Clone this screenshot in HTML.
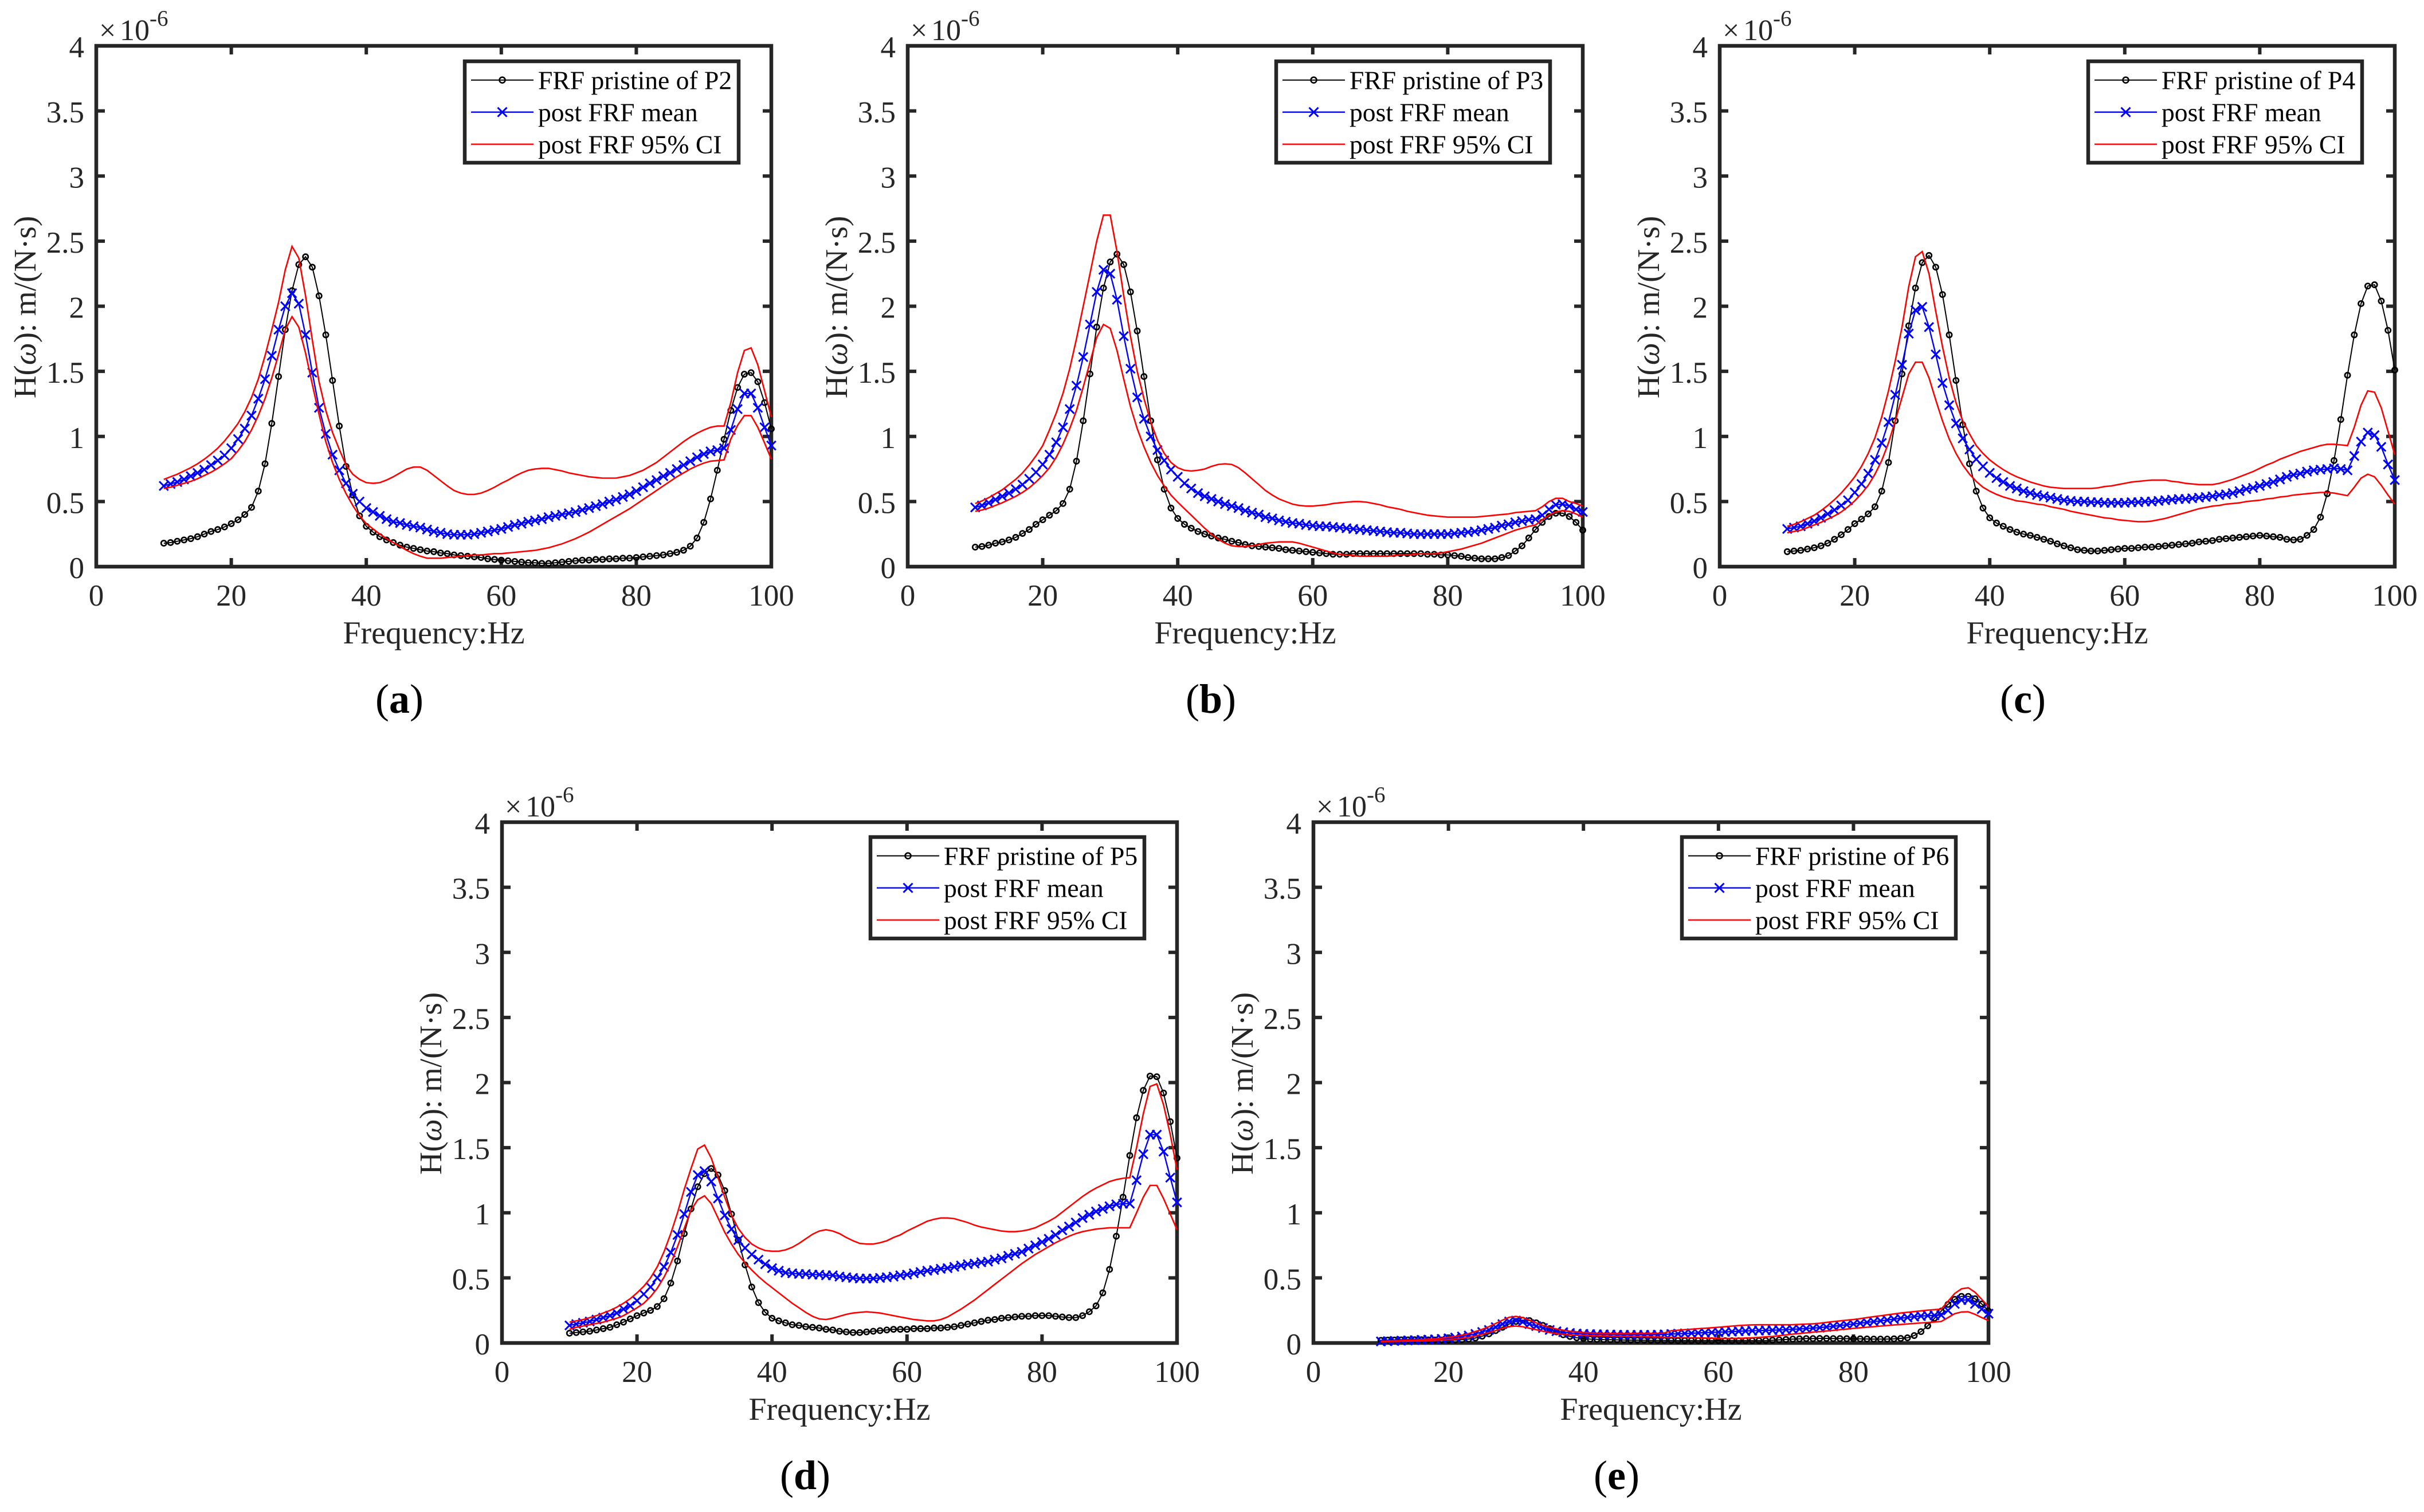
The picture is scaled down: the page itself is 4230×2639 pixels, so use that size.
<!DOCTYPE html>
<html lang="en">
<head>
<meta charset="utf-8">
<title>FRF pristine vs posterior comparison, points P2 to P6</title>
<style>
html,body{margin:0;padding:0;background:#fff;width:4230px;height:2639px;overflow:hidden}
svg{position:absolute;left:0;top:0;display:block}
text{font-family:"Liberation Serif",serif;text-rendering:geometricPrecision}
</style>
</head>
<body>
<svg id="figure" xmlns="http://www.w3.org/2000/svg" width="4230" height="2639" viewBox="0 0 4230 2639"></svg>
<script>
const frequencies = [10,11,12,13,14,15,16,17,18,19,
20,21,22,23,24,25,26,27,28,29,
30,31,32,33,34,35,36,37,38,39,
40,41,42,43,44,45,46,47,48,49,
50,51,52,53,54,55,56,57,58,59,
60,61,62,63,64,65,66,67,68,69,
70,71,72,73,74,75,76,77,78,79,
80,81,82,83,84,85,86,87,88,89,
90,91,92,93,94,95,96,97,98,99,
100];
const xTickValues = [0,20,40,60,80,100];
const xTickLabels = ['0','20','40','60','80','100'];
const yTickValues = [0,0.5,1,1.5,2,2.5,3,3.5,4];
const yTickLabels = ['0','0.5','1','1.5','2','2.5','3','3.5','4'];

const p2Pristine = [.18,.185,.195,.205,.215,.23,.25,.27,.285,.305,
.33,.36,.40,.455,.58,.79,1.10,1.46,1.82,2.12,
2.32,2.38,2.30,2.08,1.78,1.43,1.08,.77,.55,.39,
.31,.265,.23,.205,.185,.165,.15,.14,.13,.12,
.115,.105,.10,.09,.085,.08,.075,.07,.06,.055,
.05,.045,.04,.035,.03,.03,.025,.025,.03,.035,
.04,.045,.05,.05,.055,.055,.06,.06,.065,.065,
.07,.075,.08,.085,.09,.10,.11,.126,.157,.22,
.34,.52,.74,.978,1.20,1.376,1.478,1.49,1.42,1.26,
1.058];
const p2Mean = [.62,.635,.65,.67,.695,.72,.745,.78,.815,.855,
.91,.98,1.06,1.16,1.29,1.44,1.62,1.82,2.00,2.10,
2.02,1.78,1.49,1.22,1.02,.86,.74,.64,.56,.50,
.45,.42,.39,.365,.345,.335,.32,.31,.30,.285,
.27,.26,.25,.245,.245,.245,.25,.26,.27,.28,
.29,.305,.32,.33,.345,.355,.365,.38,.39,.40,
.41,.42,.435,.45,.465,.48,.50,.515,.535,.555,
.58,.61,.64,.665,.695,.72,.75,.78,.81,.84,
.865,.885,.895,.91,1.05,1.21,1.33,1.33,1.22,1.07,
.93];
const p2Upper = [.67,.69,.71,.735,.76,.79,.825,.865,.91,.965,
1.03,1.10,1.19,1.30,1.44,1.62,1.82,2.03,2.28,2.46,
2.37,2.08,1.74,1.42,1.20,1.03,.90,.78,.71,.67,
.645,.64,.645,.665,.69,.72,.75,.765,.765,.74,
.70,.66,.62,.585,.565,.555,.555,.565,.585,.61,
.64,.665,.695,.72,.74,.75,.755,.755,.745,.735,
.72,.71,.70,.69,.685,.68,.68,.68,.69,.70,
.72,.74,.77,.80,.84,.88,.92,.96,.995,1.025,
1.05,1.07,1.08,1.08,1.26,1.49,1.66,1.68,1.55,1.35,
1.15];
const p2Lower = [.60,.61,.625,.64,.655,.675,.70,.725,.755,.79,
.83,.89,.96,1.05,1.16,1.29,1.45,1.63,1.82,1.92,
1.84,1.64,1.40,1.17,.96,.80,.67,.56,.47,.39,
.33,.29,.25,.215,.185,.155,.125,.10,.08,.065,
.065,.065,.07,.075,.08,.085,.09,.09,.095,.10,
.10,.105,.11,.115,.12,.125,.135,.145,.16,.175,
.195,.215,.24,.265,.295,.325,.355,.385,.415,.445,
.48,.515,.55,.585,.62,.655,.69,.72,.75,.775,
.795,.81,.815,.82,.98,1.085,1.16,1.16,1.07,.95,
.825];

const p3Pristine = [.15,.155,.165,.18,.19,.205,.225,.255,.285,.325,
.36,.395,.43,.485,.595,.81,1.12,1.48,1.84,2.14,
2.34,2.40,2.32,2.11,1.81,1.46,1.12,.82,.595,.45,
.37,.325,.295,.27,.25,.235,.22,.21,.195,.185,
.17,.16,.155,.15,.145,.14,.13,.125,.12,.115,
.11,.105,.10,.095,.095,.095,.10,.10,.10,.10,
.10,.10,.10,.10,.10,.10,.10,.095,.095,.09,
.09,.085,.08,.07,.065,.06,.06,.06,.07,.085,
.12,.16,.22,.285,.34,.385,.41,.41,.385,.34,
.28];
const p3Mean = [.455,.47,.49,.515,.54,.565,.595,.63,.675,.725,
.785,.86,.955,1.07,1.21,1.39,1.61,1.86,2.11,2.28,
2.25,2.05,1.77,1.52,1.30,1.135,1.00,.895,.815,.745,
.69,.64,.60,.565,.54,.52,.50,.48,.465,.45,
.43,.415,.40,.38,.37,.355,.345,.335,.33,.32,
.315,.31,.31,.305,.30,.295,.29,.285,.28,.275,
.27,.265,.26,.26,.255,.25,.25,.25,.25,.25,
.25,.255,.26,.265,.27,.28,.29,.30,.315,.325,
.34,.35,.36,.365,.395,.44,.475,.48,.465,.44,
.42];
const p3Upper = [.485,.505,.53,.56,.59,.63,.67,.72,.78,.85,
.93,1.05,1.18,1.33,1.52,1.75,2.00,2.25,2.50,2.70,
2.70,2.42,2.08,1.77,1.50,1.29,1.11,.97,.87,.80,
.76,.74,.735,.74,.75,.77,.785,.79,.785,.76,
.72,.675,.63,.585,.55,.52,.50,.48,.47,.465,
.465,.47,.475,.485,.49,.495,.50,.50,.495,.485,
.475,.46,.45,.44,.425,.415,.405,.395,.39,.385,
.38,.38,.38,.38,.38,.385,.39,.395,.40,.405,
.415,.42,.425,.43,.46,.50,.525,.525,.50,.485,
.465];
const p3Lower = [.425,.435,.45,.47,.49,.515,.54,.57,.605,.65,
.70,.76,.84,.94,1.06,1.20,1.38,1.57,1.76,1.86,
1.83,1.66,1.44,1.23,1.06,.92,.80,.70,.62,.55,
.495,.445,.395,.345,.295,.25,.21,.18,.16,.155,
.155,.16,.17,.18,.185,.19,.19,.19,.18,.165,
.15,.135,.12,.105,.095,.09,.085,.08,.08,.08,
.08,.08,.085,.09,.09,.095,.10,.10,.10,.105,
.115,.125,.135,.15,.165,.18,.20,.22,.24,.26,
.28,.295,.31,.32,.36,.395,.42,.43,.425,.405,
.38];

const p4Pristine = [.115,.12,.125,.135,.145,.16,.18,.21,.245,.285,
.33,.365,.405,.46,.58,.80,1.12,1.48,1.85,2.14,
2.335,2.39,2.30,2.09,1.78,1.43,1.09,.79,.58,.45,
.375,.335,.31,.285,.265,.25,.24,.225,.21,.195,
.175,.16,.145,.13,.125,.12,.12,.125,.13,.135,
.14,.14,.145,.15,.15,.155,.16,.165,.17,.175,
.18,.19,.195,.20,.21,.215,.22,.225,.23,.235,
.24,.235,.23,.225,.21,.205,.21,.24,.285,.38,
.56,.815,1.13,1.47,1.78,2.02,2.155,2.165,2.04,1.815,
1.51];
const p4Mean = [.29,.30,.31,.33,.35,.375,.405,.435,.47,.51,
.57,.635,.715,.82,.95,1.11,1.32,1.55,1.79,1.97,
1.995,1.84,1.63,1.41,1.24,1.10,.985,.90,.825,.77,
.72,.68,.65,.62,.60,.58,.565,.55,.54,.53,
.52,.51,.505,.50,.50,.495,.495,.49,.49,.49,
.49,.495,.495,.50,.50,.505,.51,.515,.52,.52,
.525,.53,.535,.54,.55,.555,.565,.58,.595,.605,
.62,.635,.65,.67,.69,.705,.715,.73,.74,.745,
.75,.755,.75,.74,.85,.96,1.03,1.01,.92,.785,
.665];
const p4Upper = [.31,.325,.345,.37,.395,.43,.47,.515,.565,.625,
.69,.77,.87,.99,1.15,1.35,1.58,1.84,2.15,2.38,
2.42,2.25,1.96,1.69,1.45,1.26,1.12,1.02,.93,.87,
.82,.78,.745,.715,.69,.67,.65,.635,.62,.61,
.605,.60,.60,.60,.60,.60,.605,.615,.62,.63,
.64,.65,.655,.66,.665,.665,.665,.655,.65,.64,
.635,.63,.63,.63,.64,.655,.67,.69,.71,.73,
.755,.78,.80,.825,.845,.865,.885,.90,.915,.93,
.94,.94,.935,.93,1.07,1.24,1.35,1.34,1.22,1.04,
.86];
const p4Lower = [.26,.27,.28,.30,.32,.34,.365,.39,.42,.46,
.505,.56,.625,.71,.815,.95,1.12,1.30,1.48,1.57,
1.57,1.45,1.28,1.12,.98,.87,.78,.71,.655,.61,
.58,.555,.535,.52,.505,.50,.49,.48,.475,.46,
.45,.44,.425,.415,.405,.395,.385,.375,.37,.36,
.355,.35,.345,.345,.35,.36,.37,.385,.40,.415,
.43,.445,.455,.465,.47,.48,.485,.49,.50,.505,
.51,.52,.525,.535,.54,.55,.555,.56,.565,.57,
.57,.565,.555,.545,.61,.68,.71,.69,.625,.55,
.48];

const p5Pristine = [.075,.08,.085,.09,.10,.11,.12,.14,.16,.185,
.21,.23,.25,.28,.34,.46,.63,.84,1.03,1.20,
1.30,1.34,1.29,1.17,.99,.79,.60,.43,.31,.235,
.19,.17,.155,.14,.135,.125,.12,.115,.105,.10,
.09,.085,.08,.08,.085,.09,.095,.10,.105,.105,
.105,.11,.11,.11,.115,.115,.12,.125,.135,.145,
.155,.165,.175,.18,.19,.195,.20,.205,.205,.21,
.21,.21,.205,.20,.195,.195,.21,.24,.285,.385,
.565,.82,1.12,1.44,1.73,1.94,2.05,2.045,1.92,1.70,
1.42];
const p5Mean = [.135,.145,.155,.165,.18,.195,.21,.23,.26,.285,
.325,.375,.43,.50,.585,.695,.83,.99,1.16,1.29,
1.32,1.24,1.11,.98,.875,.79,.73,.68,.64,.605,
.575,.555,.54,.535,.53,.53,.525,.525,.52,.52,
.51,.505,.50,.495,.495,.495,.50,.505,.51,.52,
.525,.535,.545,.555,.56,.57,.575,.585,.595,.605,
.61,.62,.625,.64,.65,.67,.685,.70,.725,.75,
.775,.80,.83,.865,.895,.925,.96,.985,1.01,1.03,
1.05,1.065,1.07,1.07,1.25,1.45,1.60,1.60,1.47,1.27,
1.08];
const p5Upper = [.16,.17,.18,.195,.21,.23,.25,.275,.305,.34,
.385,.435,.50,.585,.70,.84,1.00,1.18,1.34,1.49,
1.52,1.42,1.27,1.12,.98,.88,.81,.76,.73,.71,
.705,.705,.715,.735,.765,.80,.835,.86,.87,.86,
.84,.81,.785,.765,.76,.76,.77,.785,.81,.83,
.86,.885,.91,.935,.95,.96,.96,.955,.94,.925,
.905,.89,.88,.87,.86,.855,.855,.86,.87,.885,
.91,.935,.965,1.005,1.045,1.085,1.125,1.16,1.19,1.215,
1.24,1.255,1.265,1.27,1.50,1.76,1.97,1.99,1.83,1.60,
1.33];
const p5Lower = [.105,.12,.13,.14,.15,.16,.175,.19,.21,.24,
.27,.305,.355,.42,.505,.61,.74,.88,1.02,1.10,
1.13,1.07,.96,.85,.76,.68,.615,.56,.51,.465,
.425,.385,.345,.305,.27,.235,.205,.185,.18,.19,
.205,.22,.23,.235,.24,.235,.23,.22,.21,.20,
.19,.18,.175,.17,.17,.18,.20,.23,.26,.295,
.33,.37,.41,.45,.49,.53,.57,.61,.645,.68,
.71,.74,.77,.795,.82,.84,.855,.865,.875,.88,
.885,.885,.885,.885,1.00,1.12,1.21,1.21,1.11,.99,
.87];

const p6Pristine = [.02,.022,.023,.024,.024,.025,.025,.024,.023,.022,
.022,.023,.025,.03,.038,.052,.07,.095,.12,.145,
.165,.175,.172,.155,.135,.11,.085,.063,.05,.04,
.034,.03,.028,.026,.025,.024,.023,.022,.022,.021,
.02,.02,.02,.019,.018,.018,.018,.018,.018,.018,
.018,.018,.018,.018,.018,.018,.018,.019,.021,.024,
.027,.03,.032,.034,.034,.035,.035,.034,.034,.033,
.032,.032,.031,.03,.03,.03,.032,.035,.04,.057,
.087,.132,.19,.245,.296,.335,.358,.358,.34,.30,
.245];
const p6Mean = [.012,.014,.016,.018,.02,.022,.024,.026,.028,.032,
.036,.042,.05,.058,.07,.085,.10,.122,.145,.165,
.172,.162,.145,.13,.115,.10,.09,.083,.077,.072,
.07,.068,.067,.066,.065,.064,.063,.063,.063,.063,
.063,.064,.066,.069,.071,.073,.075,.077,.079,.081,
.083,.085,.087,.09,.092,.094,.095,.097,.098,.10,
.102,.105,.108,.111,.114,.118,.123,.128,.134,.14,
.146,.152,.158,.164,.17,.176,.183,.19,.196,.202,
.207,.21,.212,.214,.25,.30,.33,.33,.30,.26,
.225];
const p6Upper = [.013,.015,.017,.019,.021,.023,.025,.028,.032,.037,
.043,.05,.06,.072,.088,.105,.125,.15,.175,.197,
.204,.195,.175,.155,.135,.12,.108,.098,.09,.085,
.08,.078,.075,.074,.073,.073,.073,.073,.074,.074,
.074,.075,.077,.094,.098,.102,.106,.11,.113,.117,
.121,.125,.13,.134,.137,.139,.14,.14,.14,.14,
.14,.141,.143,.145,.147,.152,.158,.164,.17,.175,
.18,.187,.195,.202,.209,.216,.223,.23,.236,.241,
.247,.252,.256,.26,.32,.38,.416,.424,.39,.335,
.28];
const p6Lower = [.01,.011,.012,.013,.014,.015,.016,.018,.02,.022,
.025,.03,.036,.043,.053,.066,.08,.095,.113,.126,
.13,.125,.113,.102,.09,.08,.072,.067,.063,.06,
.058,.056,.055,.054,.052,.051,.05,.05,.049,.048,
.047,.046,.044,.043,.042,.041,.04,.039,.038,.037,
.036,.035,.035,.036,.038,.04,.043,.047,.05,.056,
.062,.068,.073,.078,.083,.087,.092,.097,.102,.107,
.112,.117,.121,.125,.13,.134,.138,.142,.146,.15,
.154,.157,.161,.165,.195,.225,.238,.24,.22,.195,
.172];

const svg = document.getElementById('figure');
const NS = 'http://www.w3.org/2000/svg';
const INK = '#262626';
const PLOT_W = 1178, PLOT_H = 909;
const X_MAX = 100, Y_MAX = 4;

function mk(tag, attrs, parent) {
  const el = document.createElementNS(NS, tag);
  for (const k in attrs) el.setAttribute(k, attrs[k]);
  parent.appendChild(el);
  return el;
}

function drawPanel(cfg) {
  const L = cfg.left, T = cfg.top, R = L + PLOT_W, B = T + PLOT_H;
  const sx = v => L + v / X_MAX * PLOT_W;
  const sy = v => B - v / Y_MAX * PLOT_H;

  const g = mk('g', {}, svg);
  
  

  const frame = mk('rect', {x: L, y: T, width: PLOT_W, height: PLOT_H, fill: 'none', stroke: INK, 'stroke-width': 6.5}, g);
  
  

  xTickValues.forEach((v, i) => {
    const bottomTick = mk('line', {x1: sx(v), x2: sx(v), y1: B, y2: B - 15, stroke: INK, 'stroke-width': 6}, g);
    
    
    const topTick = mk('line', {x1: sx(v), x2: sx(v), y1: T, y2: T + 15, stroke: INK, 'stroke-width': 6}, g);
    
    
    const label = mk('text', {x: sx(v), y: B + 68, 'text-anchor': 'middle', 'font-size': 53, fill: INK}, g);
    label.textContent = xTickLabels[i];
    
    
  });

  yTickValues.forEach((v, i) => {
    const leftTick = mk('line', {x1: L, x2: L + 15, y1: sy(v), y2: sy(v), stroke: INK, 'stroke-width': 6}, g);
    
    
    const rightTick = mk('line', {x1: R, x2: R - 15, y1: sy(v), y2: sy(v), stroke: INK, 'stroke-width': 6}, g);
    
    
    const label = mk('text', {x: L - 21, y: sy(v) + 20, 'text-anchor': 'end', 'font-size': 53, fill: INK}, g);
    label.textContent = yTickLabels[i];
    
    
  });

  const mult = mk('text', {x: L + 5, y: T - 10, 'font-size': 52, fill: INK}, g);
  mult.textContent = '×';
  
  
  const ten = mk('text', {x: L + 41, y: T - 10, 'font-size': 52, fill: INK}, g);
  ten.textContent = '10';
  
  
  const exp = mk('text', {x: L + 93, y: T - 35, 'font-size': 39, fill: INK}, g);
  exp.textContent = '-6';
  
  

  const xTitle = mk('text', {x: L + PLOT_W / 2, y: B + 134, 'text-anchor': 'middle', 'font-size': 56, fill: INK}, g);
  xTitle.textContent = 'Frequency:Hz';
  
  

  const yCx = L - 106, yCy = T + 456;
  const yTitle = mk('text', {x: yCx, y: yCy, 'text-anchor': 'middle', 'font-size': 55, fill: INK, transform: 'rotate(-90 ' + yCx + ' ' + yCy + ')'}, g);
  
  
  yTitle.appendChild(document.createTextNode('H('));
  const omega = mk('tspan', {'font-style': 'italic'}, yTitle);
  omega.textContent = 'ω';
  yTitle.appendChild(document.createTextNode('): m/(N·s)'));

  const pts = arr => arr.map((v, i) => sx(frequencies[i]).toFixed(1) + ',' + sy(v).toFixed(1)).join(' ');

  const pristineLine = mk('polyline', {points: pts(cfg.pristine), fill: 'none', stroke: '#000', 'stroke-width': 2}, g);
  
  
  cfg.pristine.forEach((v, i) => {
    const c = mk('circle', {cx: sx(frequencies[i]), cy: sy(v), r: 4.6, fill: 'none', stroke: '#000', 'stroke-width': 2.7}, g);
    
    
  });

  const meanLine = mk('polyline', {points: pts(cfg.mean), fill: 'none', stroke: '#0000ff', 'stroke-width': 2.4}, g);
  
  
  cfg.mean.forEach((v, i) => {
    const x = sx(frequencies[i]), y = sy(v), h = 7.8;
    const m = mk('path', {d: 'M' + (x - h) + ' ' + (y - h) + 'L' + (x + h) + ' ' + (y + h) + 'M' + (x - h) + ' ' + (y + h) + 'L' + (x + h) + ' ' + (y - h), fill: 'none', stroke: '#0000ff', 'stroke-width': 3}, g);
    
    
  });

  const upper = mk('polyline', {points: pts(cfg.upper), fill: 'none', stroke: '#ff0000', 'stroke-width': 2.6}, g);
  
  
  const lower = mk('polyline', {points: pts(cfg.lower), fill: 'none', stroke: '#ff0000', 'stroke-width': 2.6}, g);
  
  

  const legend = mk('g', {}, g);
  
  
  const dy = cfg.legendShift;
  const box = mk('rect', {x: L + 643, y: T + 27 + dy, width: 478, height: 177, fill: '#fff', stroke: INK, 'stroke-width': 6.5}, legend);
  
  
  const lx1 = L + 654, lx2 = L + 763, lmid = (lx1 + lx2) / 2, tx = L + 771;
  const r1 = T + 59.7 + dy, r2 = T + 115.7 + dy, r3 = T + 171.7 + dy;

  const s1 = mk('line', {x1: lx1, x2: lx2, y1: r1, y2: r1, stroke: '#000', 'stroke-width': 2}, legend);
  
  
  const s1m = mk('circle', {cx: lmid, cy: r1, r: 5, fill: 'none', stroke: '#000', 'stroke-width': 2.6}, legend);
  
  
  const t1 = mk('text', {x: tx, y: r1 + 16, 'font-size': 45.6, fill: '#000'}, legend);
  t1.textContent = 'FRF pristine of ' + cfg.point;
  
  

  const s2 = mk('line', {x1: lx1, x2: lx2, y1: r2, y2: r2, stroke: '#0000ff', 'stroke-width': 2.4}, legend);
  
  
  const s2m = mk('path', {d: 'M' + (lmid - 8) + ' ' + (r2 - 8) + 'L' + (lmid + 8) + ' ' + (r2 + 8) + 'M' + (lmid - 8) + ' ' + (r2 + 8) + 'L' + (lmid + 8) + ' ' + (r2 - 8), fill: 'none', stroke: '#0000ff', 'stroke-width': 3}, legend);
  
  
  const t2 = mk('text', {x: tx, y: r2 + 16, 'font-size': 45.6, fill: '#000'}, legend);
  t2.textContent = 'post FRF mean';
  
  

  const s3 = mk('line', {x1: lx1, x2: lx2, y1: r3, y2: r3, stroke: '#ff0000', 'stroke-width': 2.4}, legend);
  
  
  const t3 = mk('text', {x: tx, y: r3 + 16, 'font-size': 45.6, fill: '#000'}, legend);
  t3.textContent = 'post FRF 95% CI';
  
  

  const cap = mk('text', {x: L + 529, y: B + 255, 'text-anchor': 'middle', 'font-size': 72, fill: '#000'}, g);
  
  
  cap.appendChild(document.createTextNode('('));
  const capLetter = mk('tspan', {'font-weight': 'bold'}, cap);
  capLetter.textContent = cfg.letter;
  cap.appendChild(document.createTextNode(')'));
}

drawPanel({letter: 'a', point: 'P2', left: 168, top: 80, legendShift: 0, pristine: p2Pristine, mean: p2Mean, upper: p2Upper, lower: p2Lower});
drawPanel({letter: 'b', point: 'P3', left: 1584, top: 80, legendShift: 0, pristine: p3Pristine, mean: p3Mean, upper: p3Upper, lower: p3Lower});
drawPanel({letter: 'c', point: 'P4', left: 3001, top: 80, legendShift: 0, pristine: p4Pristine, mean: p4Mean, upper: p4Upper, lower: p4Lower});
drawPanel({letter: 'd', point: 'P5', left: 876, top: 1435, legendShift: -1, pristine: p5Pristine, mean: p5Mean, upper: p5Upper, lower: p5Lower});
drawPanel({letter: 'e', point: 'P6', left: 2292, top: 1435, legendShift: -1, pristine: p6Pristine, mean: p6Mean, upper: p6Upper, lower: p6Lower});
</script>
</body>
</html>
